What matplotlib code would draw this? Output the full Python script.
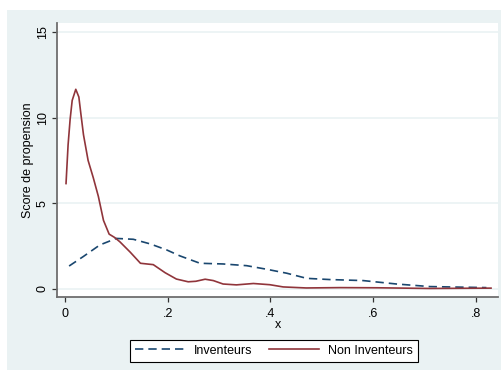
import matplotlib.pyplot as plt
from matplotlib.patches import Rectangle

plt.rcParams['font.family'] = ['Liberation Sans', 'DejaVu Sans']
plt.rcParams['font.size'] = 9

# kernel density estimates of the propensity score
x_inv = [0.008, 0.036, 0.068, 0.100, 0.133, 0.166, 0.198, 0.224, 0.263, 0.308,
         0.354, 0.393, 0.432, 0.471, 0.516, 0.581, 0.646, 0.711, 0.821]
y_inv = [1.34, 1.90, 2.57, 2.95, 2.90, 2.63, 2.28, 1.93, 1.50, 1.46,
         1.36, 1.15, 0.92, 0.62, 0.55, 0.49, 0.29, 0.14, 0.08]

x_non = [0.002, 0.006, 0.010, 0.014, 0.021, 0.027, 0.031, 0.036, 0.045, 0.055,
         0.065, 0.075, 0.086, 0.097, 0.107, 0.127, 0.147, 0.172, 0.195, 0.217,
         0.240, 0.255, 0.273, 0.289, 0.308, 0.334, 0.367, 0.399, 0.425, 0.470,
         0.536, 0.610, 0.711, 0.830]
y_non = [6.15, 8.40, 9.90, 11.00, 11.65, 11.20, 10.20, 9.00, 7.50, 6.50,
         5.40, 4.00, 3.20, 3.00, 2.75, 2.15, 1.50, 1.42, 0.95, 0.58,
         0.42, 0.45, 0.57, 0.49, 0.29, 0.24, 0.32, 0.25, 0.12, 0.06,
         0.08, 0.07, 0.03, 0.05]

xticks = [0, 0.2, 0.4, 0.6, 0.8]
xticklabels = ['0', '.2', '.4', '.6', '.8']
yticks = [0, 5, 10, 15]

bg = '#EAF2F3'
navy = '#1a476f'
maroon = '#90353b'

fig = plt.figure(figsize=(5.01, 3.71), dpi=100, facecolor='white')
fig.patches.append(Rectangle((7 / 501, 1 / 371), 494 / 501, 360 / 371,
                             transform=fig.transFigure, facecolor=bg,
                             edgecolor='none', zorder=-10))

ax = fig.add_axes([57.3 / 501, 1 - 296.7 / 371, 440.4 / 501, 273.4 / 371])
ax.set_facecolor('white')

for yv in yticks:
    ax.axhline(yv, color=bg, lw=1.2, zorder=0)

l1, = ax.plot(x_inv, y_inv, color=navy, lw=1.2, linestyle=(0, (5, 3)),
              label='Inventeurs')
l2, = ax.plot(x_non, y_non, color=maroon, lw=1.2, label='Non Inventeurs')

ax.set_xlim(-0.015, 0.843)
ax.set_ylim(-0.45, 15.5)
ax.set_xticks(xticks)
ax.set_xticklabels(xticklabels)
ax.set_yticks(yticks)
ax.set_yticklabels([str(v) for v in yticks], rotation=90, va='center')

for s in ['top', 'right']:
    ax.spines[s].set_visible(False)
for s in ['left', 'bottom']:
    ax.spines[s].set_color('#6e6e6e')
    ax.spines[s].set_linewidth(1.3)
ax.tick_params(direction='out', length=3.6, width=0.9, color='#333333', pad=2.5,
               labelsize=9)
ax.tick_params(axis='x', pad=4.5)

ax.set_xlabel('x', fontsize=9, labelpad=-1)
ax.set_ylabel('Score de propension', fontsize=9, labelpad=2)

leg = fig.legend(handles=[l1, l2], loc='center', bbox_to_anchor=(0.547, 0.055),
                 ncol=2, frameon=True, fancybox=False, fontsize=9,
                 handlelength=4.0, handletextpad=0.7, columnspacing=1.3,
                 borderpad=0.4, framealpha=1)
leg.get_frame().set_edgecolor('black')
leg.get_frame().set_facecolor('white')
leg.get_frame().set_linewidth(0.8)

fig.savefig('out.png', dpi=100, facecolor='white')
